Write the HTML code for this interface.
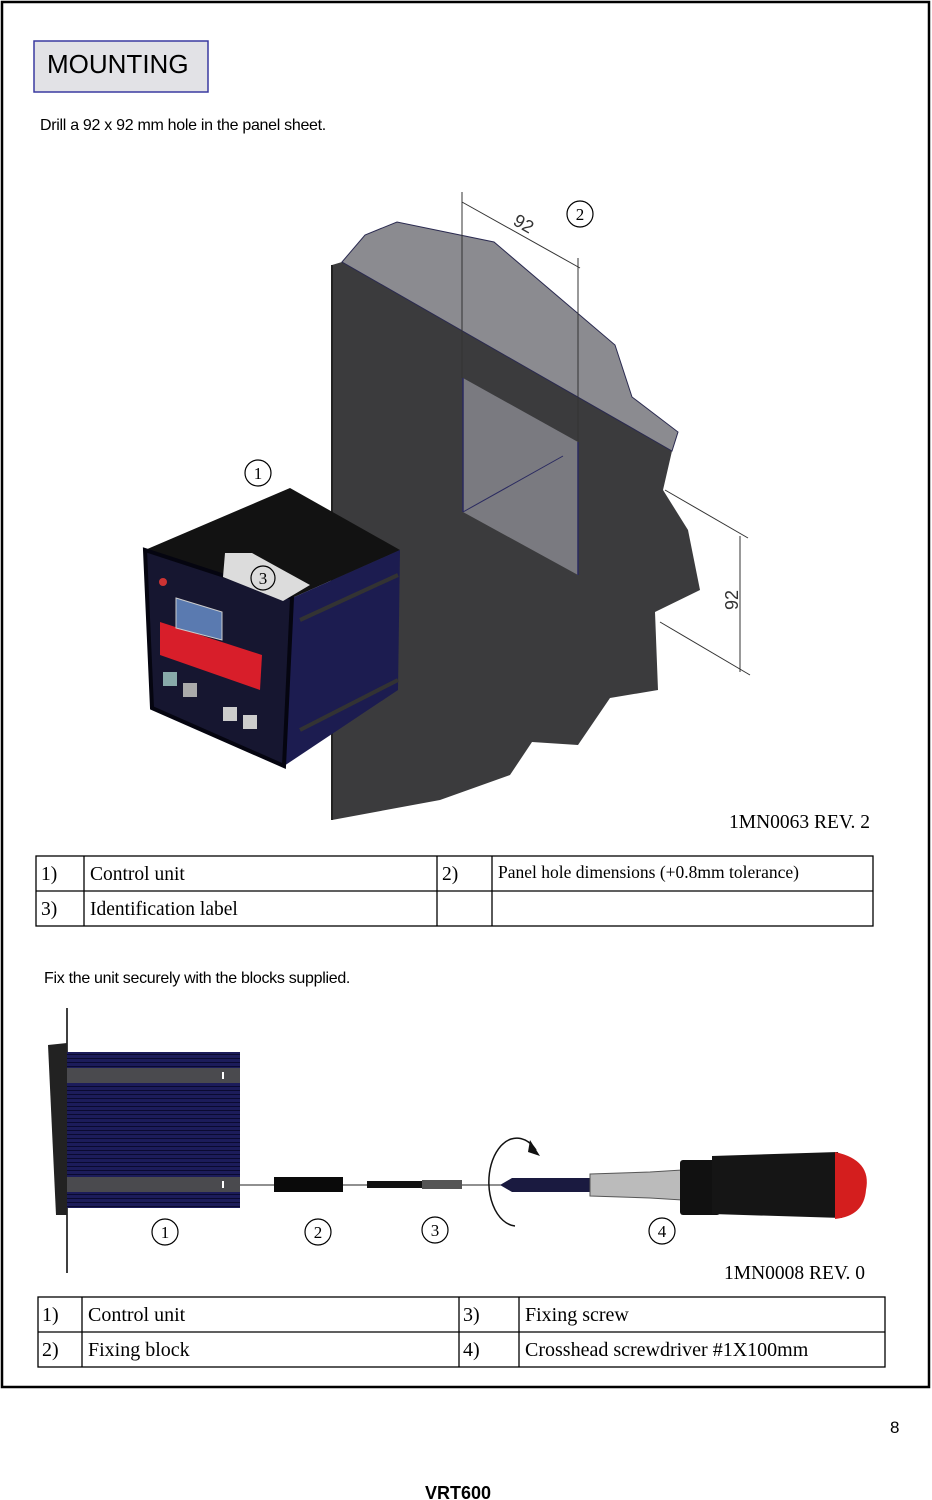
<!DOCTYPE html>
<html><head><meta charset="utf-8"><style>
html,body{margin:0;padding:0;background:#fff;}
body{width:932px;height:1500px;position:relative;overflow:hidden;}
svg{position:absolute;left:0;top:0;}
.sans{font-family:"Liberation Sans",sans-serif;}
.serif{font-family:"Liberation Serif",serif;}
</style></head><body>
<svg width="932" height="1500" viewBox="0 0 932 1500" xmlns="http://www.w3.org/2000/svg">
<defs>
<pattern id="stripes" width="4" height="4" patternUnits="userSpaceOnUse">
<rect width="4" height="4" fill="#1c1c5a"/><rect y="2" width="4" height="1" fill="#0a0a30"/>
</pattern>
</defs>
<rect x="2" y="2" width="927" height="1385" fill="none" stroke="#000" stroke-width="2.5"/>
<rect x="34" y="41" width="174" height="51" fill="#e2e2e6" stroke="#3a3aa0" stroke-width="1.5"/>
<text x="47" y="73" class="sans" font-size="26" fill="#000">MOUNTING</text>
<text x="40" y="130" class="sans" font-size="16" letter-spacing="-0.3">Drill a 92 x 92 mm hole in the panel sheet.</text>

<!-- panel -->
<polygon points="332,265 342,262 672,451 663,490 688,530 700,590 655,612 658,690 610,698 578,745 532,742 510,775 440,800 332,820" fill="#3b3b3d"/>
<polygon points="342,262 365,235 397,222 494,242 615,345 632,397 678,432 672,451" fill="#8b8b90" stroke="#2a2a50" stroke-width="1"/>
<polygon points="463,378 578,442 578,575 463,512" fill="#7a7a80"/>
<line x1="463" y1="378" x2="463" y2="512" stroke="#2a2a60" stroke-width="1.5"/>
<line x1="578" y1="442" x2="578" y2="575" stroke="#2a2a60" stroke-width="1.5"/>
<line x1="463" y1="512" x2="563" y2="456" stroke="#2a2a60" stroke-width="1"/>
<line x1="332" y1="265" x2="332" y2="820" stroke="#222" stroke-width="2"/>
<!-- dims -->
<g stroke="#333" stroke-width="1" fill="none">
<line x1="462" y1="192" x2="462" y2="378"/>
<line x1="578" y1="258" x2="578" y2="442"/>
<line x1="462" y1="202" x2="580" y2="268"/>
<line x1="665" y1="490" x2="748" y2="538"/>
<line x1="660" y1="622" x2="750" y2="675"/>
<line x1="740" y1="536" x2="740" y2="672"/>
</g>
<text x="0" y="0" class="sans" font-size="18" fill="#333" transform="translate(512,224) rotate(30)">92</text>
<text x="0" y="0" class="sans" font-size="18" fill="#333" transform="translate(738,610) rotate(-90)">92</text>

<!-- control unit -->
<polygon points="145,550 290,488 400,550 292,598" fill="#121212"/>
<polygon points="292,598 400,550 398,690 284,766" fill="#1c1c50"/>
<line x1="300" y1="620" x2="398" y2="575" stroke="#333" stroke-width="4"/>
<line x1="300" y1="730" x2="398" y2="680" stroke="#333" stroke-width="4"/>
<polygon points="145,550 292,598 284,766 152,708" fill="#161630" stroke="#050510" stroke-width="4"/>
<polygon points="225,553 252,553 310,585 283,601 223,577" fill="#dcdcdc"/>
<polygon points="160,622 262,655 260,690 160,655" fill="#d81e2a"/>
<polygon points="176,598 222,612 222,640 176,628" fill="#5a7ab0" stroke="#ccc" stroke-width="1"/>
<rect x="163" y="672" width="14" height="14" fill="#8aa"/>
<rect x="183" y="683" width="14" height="14" fill="#aaa"/>
<rect x="223" y="707" width="14" height="14" fill="#ccc"/>
<rect x="243" y="715" width="14" height="14" fill="#ccc"/>
<circle cx="163" cy="582" r="4" fill="#c33"/>

<g fill="#fff" stroke="#000" stroke-width="1.2">
<circle cx="258" cy="473" r="13"/><circle cx="580" cy="214" r="13"/><circle cx="263" cy="578" r="12" fill="none"/>
</g>
<g class="serif" font-size="17" text-anchor="middle">
<text x="258" y="479">1</text><text x="580" y="220">2</text><text x="263" y="584">3</text>
</g>
<text x="729" y="828" class="serif" font-size="19.5">1MN0063 REV. 2</text>

<!-- table 1 -->
<g stroke="#000" stroke-width="1.3" fill="none">
<rect x="36" y="856" width="837" height="70"/>
<line x1="36" y1="891" x2="873" y2="891"/>
<line x1="84" y1="856" x2="84" y2="926"/>
<line x1="437" y1="856" x2="437" y2="926"/>
<line x1="492" y1="856" x2="492" y2="926"/>
</g>
<g class="serif" font-size="19.5">
<text x="41" y="880">1)</text><text x="90" y="880">Control unit</text>
<text x="442" y="880">2)</text><text x="498" y="878" font-size="17.5">Panel hole dimensions (+0.8mm tolerance)</text>
<text x="41" y="915">3)</text><text x="90" y="915">Identification label</text>
</g>

<text x="44" y="983" class="sans" font-size="16" letter-spacing="-0.3">Fix the unit securely with the blocks supplied.</text>

<!-- bottom drawing -->
<line x1="67" y1="1008" x2="67" y2="1273" stroke="#000" stroke-width="1.5"/>
<polygon points="48,1045 67,1043 67,1215 56,1215" fill="#222"/>
<rect x="67" y="1052" width="173" height="156" fill="url(#stripes)"/>
<rect x="67" y="1068" width="173" height="15" fill="#4a4a4e"/>
<rect x="67" y="1177" width="173" height="15" fill="#4a4a4e"/>
<rect x="222" y="1072" width="2" height="7" fill="#fff"/>
<rect x="222" y="1181" width="2" height="7" fill="#fff"/>
<line x1="240" y1="1185" x2="640" y2="1185" stroke="#222" stroke-width="1"/>
<rect x="274" y="1177" width="69" height="15" fill="#0a0a0a"/>
<rect x="367" y="1181" width="70" height="7" fill="#111"/>
<rect x="422" y="1180" width="40" height="9" fill="#555"/>
<path d="M515,1226 A28,44 0 1,1 536,1150" fill="none" stroke="#111" stroke-width="1.5"/>
<polygon points="530,1140 540,1156 528,1152" fill="#111"/>
<polygon points="500,1185 512,1178 590,1178 590,1192 512,1192" fill="#1a1a40"/>
<polygon points="590,1174 650,1172 682,1170 682,1200 650,1198 590,1196" fill="#bbb" stroke="#555"/>
<rect x="680" y="1160" width="40" height="55" fill="#111" rx="3"/>
<polygon points="712,1156 838,1152 842,1218 712,1214" fill="#151515"/>
<path d="M835,1152 Q872,1160 866,1190 Q864,1216 835,1219 Z" fill="#d41e1e"/>
<g fill="#fff" stroke="#000" stroke-width="1.2">
<circle cx="165" cy="1232" r="13"/><circle cx="318" cy="1232" r="13"/><circle cx="435" cy="1230" r="13"/><circle cx="662" cy="1231" r="13"/>
</g>
<g class="serif" font-size="17" text-anchor="middle">
<text x="165" y="1238">1</text><text x="318" y="1238">2</text><text x="435" y="1236">3</text><text x="662" y="1237">4</text>
</g>
<text x="724" y="1279" class="serif" font-size="19.5">1MN0008 REV. 0</text>

<!-- table 2 -->
<g stroke="#000" stroke-width="1.3" fill="none">
<rect x="38" y="1297" width="847" height="70"/>
<line x1="38" y1="1332" x2="885" y2="1332"/>
<line x1="82" y1="1297" x2="82" y2="1367"/>
<line x1="459" y1="1297" x2="459" y2="1367"/>
<line x1="519" y1="1297" x2="519" y2="1367"/>
</g>
<g class="serif" font-size="20">
<text x="42" y="1321">1)</text><text x="88" y="1321">Control unit</text>
<text x="463" y="1321">3)</text><text x="525" y="1321">Fixing screw</text>
<text x="42" y="1356">2)</text><text x="88" y="1356">Fixing block</text>
<text x="463" y="1356">4)</text><text x="525" y="1356">Crosshead screwdriver #1X100mm</text>
</g>

<text x="890" y="1433" class="sans" font-size="17">8</text>
<text x="458" y="1499" class="sans" font-size="18" font-weight="bold" text-anchor="middle">VRT600</text>
</svg>
</body></html>
